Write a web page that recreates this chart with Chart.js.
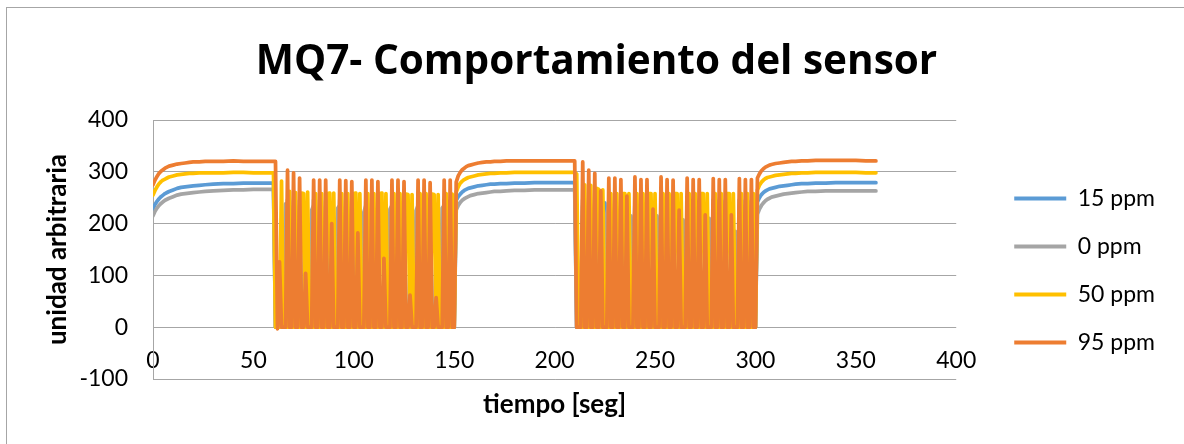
<!DOCTYPE html>
<html>
<head>
<meta charset="utf-8">
<script src="https://cdn.jsdelivr.net/npm/chart.js@4.4.1/dist/chart.umd.min.js"></script>
<style>
  body { margin: 0; background: #fff; }
  canvas { display: block; }
</style>
</head>
<body>
<canvas id="grafico" width="1184" height="444"></canvas>
<script>
// tiempo [seg]: curva suave 0-60, oscilacion 61-150, curva 151-210, oscilacion 211-300, curva 301-360
const tiempo = [
  0, 1, 2, 3, 4, 5, 6, 7, 8, 10, 12, 14, 16, 18, 20, 23, 26, 30, 35, 40, 45, 50, 55, 60,
  61, 62, 63, 64, 65, 66, 67, 68, 69, 70,
  71, 72, 73, 74, 75, 76, 77, 78, 79, 80,
  81, 82, 83, 84, 85, 86, 87, 88, 89, 90,
  91, 92, 93, 94, 95, 96, 97, 98, 99, 100,
  101, 102, 103, 104, 105, 106, 107, 108, 109, 110,
  111, 112, 113, 114, 115, 116, 117, 118, 119, 120,
  121, 122, 123, 124, 125, 126, 127, 128, 129, 130,
  131, 132, 133, 134, 135, 136, 137, 138, 139, 140,
  141, 142, 143, 144, 145, 146, 147, 148, 149, 150,
  151, 152, 153, 154, 155, 156, 157, 158, 160, 162, 164, 166, 168, 170, 173, 176, 180, 185, 190, 195, 200, 205, 210,
  211, 212, 213, 214, 215, 216, 217, 218, 219, 220,
  221, 222, 223, 224, 225, 226, 227, 228, 229, 230,
  231, 232, 233, 234, 235, 236, 237, 238, 239, 240,
  241, 242, 243, 244, 245, 246, 247, 248, 249, 250,
  251, 252, 253, 254, 255, 256, 257, 258, 259, 260,
  261, 262, 263, 264, 265, 266, 267, 268, 269, 270,
  271, 272, 273, 274, 275, 276, 277, 278, 279, 280,
  281, 282, 283, 284, 285, 286, 287, 288, 289, 290,
  291, 292, 293, 294, 295, 296, 297, 298, 299, 300,
  301, 302, 303, 304, 305, 306, 307, 308, 310, 312, 314, 316, 318, 320, 323, 326, 330, 335, 340, 345, 350, 355, 360
];

const ppm15 = [
  228, 237, 243, 248, 252, 255, 258, 260, 262, 265, 268, 270, 271, 272, 273, 274, 275, 276, 277, 277, 278, 278, 278, 278,
  0, 0, 0, 0, 0, 0, 246, 0, 0, 244,
  0, 0, 245, 0, 0, 0, 0, 0, 0, 246,
  0, 0, 246, 0, 0, 244, 0, 0, 0, 0,
  0, 0, 246, 0, 0, 245, 0, 0, 244, 0,
  0, 0, 0, 0, 0, 246, 0, 0, 246, 0,
  0, 244, 0, 0, 0, 0, 0, 0, 246, 0,
  0, 246, 0, 0, 244, 0, 0, 0, 0, 0,
  0, 246, 0, 0, 245, 0, 0, 244, 0, 0,
  0, 0, 0, 0, 246, 0, 0, 245, 0, 0,
  245, 252, 257, 261, 264, 266, 268, 269, 271, 273, 274, 275, 276, 276, 277, 277, 278, 278, 279, 279, 279, 279, 279,
  0, 0, 0, 246, 0, 0, 246, 0, 0, 245,
  0, 0, 0, 0, 240, 0, 246, 0, 0, 245,
  0, 0, 244, 0, 0, 0, 0, 0, 0, 246,
  0, 0, 245, 0, 0, 244, 0, 0, 0, 0,
  0, 0, 246, 0, 0, 245, 0, 0, 244, 0,
  0, 0, 0, 0, 0, 246, 0, 0, 245, 0,
  0, 244, 0, 0, 0, 0, 0, 0, 246, 0,
  0, 245, 0, 0, 244, 0, 0, 0, 0, 0,
  0, 246, 0, 0, 245, 0, 0, 244, 0, 0,
  242, 250, 256, 260, 263, 265, 267, 268, 270, 272, 273, 274, 275, 276, 277, 277, 278, 278, 279, 279, 279, 279, 279
];

const ppm0 = [
  215, 224, 230, 235, 239, 242, 245, 247, 249, 252, 255, 257, 258, 259, 260, 261, 262, 263, 264, 265, 265, 266, 266, 266,
  0, 0, 0, 0, 0, 238, 235, 0, 0, 235,
  0, 0, 235, 0, 0, 0, 0, 0, 226, 235,
  0, 0, 235, 0, 0, 234, 0, 0, 0, 0,
  0, 230, 235, 0, 0, 234, 0, 0, 233, 0,
  0, 0, 0, 0, 222, 235, 0, 0, 235, 0,
  0, 233, 0, 0, 0, 0, 0, 228, 235, 0,
  0, 235, 0, 0, 233, 0, 0, 0, 0, 0,
  225, 235, 0, 0, 234, 0, 0, 233, 0, 0,
  0, 0, 0, 230, 235, 0, 0, 234, 0, 0,
  226, 235, 241, 245, 248, 250, 252, 254, 256, 258, 259, 260, 261, 262, 262, 263, 264, 264, 265, 265, 265, 265, 265,
  0, 0, 0, 235, 0, 0, 235, 0, 0, 235,
  0, 0, 0, 0, 0, 220, 235, 0, 0, 235,
  0, 0, 235, 0, 0, 0, 0, 215, 0, 235,
  0, 0, 235, 0, 0, 235, 0, 0, 0, 0,
  215, 0, 235, 0, 0, 235, 0, 0, 235, 0,
  0, 0, 0, 207, 0, 235, 0, 0, 235, 0,
  0, 235, 0, 0, 0, 0, 210, 0, 235, 0,
  0, 235, 0, 0, 235, 0, 0, 0, 0, 185,
  0, 235, 0, 0, 235, 0, 0, 235, 0, 0,
  218, 228, 235, 240, 244, 247, 249, 251, 253, 255, 257, 258, 259, 260, 261, 262, 262, 263, 263, 263, 263, 263, 263
];

const ppm50 = [
  255, 264, 271, 277, 281, 284, 286, 288, 290, 292, 294, 295, 296, 297, 297, 298, 298, 298, 298, 299, 299, 298, 298, 298,
  0, 0, 0, 282, 0, 0, 0, 262, 0, 0,
  260, 0, 0, 259, 258, 0, 261, 0, 0, 0,
  258, 0, 0, 258, 0, 0, 258, 259, 0, 259,
  0, 0, 0, 258, 0, 0, 258, 0, 0, 258,
  259, 0, 258, 0, 0, 0, 258, 0, 0, 258,
  0, 0, 258, 259, 0, 258, 0, 0, 0, 258,
  0, 0, 258, 0, 0, 257, 256, 0, 256, 0,
  0, 0, 258, 0, 0, 258, 0, 0, 257, 256,
  0, 256, 0, 0, 0, 258, 0, 0, 257, 0,
  261, 271, 278, 282, 285, 287, 289, 290, 292, 294, 295, 296, 297, 297, 298, 298, 299, 299, 299, 299, 299, 299, 299,
  296, 0, 0, 0, 275, 0, 0, 274, 0, 0,
  268, 266, 0, 265, 0, 0, 0, 258, 0, 0,
  258, 0, 0, 258, 258, 0, 258, 0, 0, 0,
  258, 0, 0, 258, 0, 0, 258, 258, 0, 258,
  0, 0, 0, 258, 0, 0, 258, 0, 0, 258,
  258, 0, 258, 0, 0, 0, 258, 0, 0, 258,
  0, 0, 258, 258, 0, 258, 0, 0, 0, 258,
  0, 0, 258, 0, 0, 258, 258, 0, 258, 0,
  0, 0, 258, 0, 0, 258, 0, 0, 258, 0,
  265, 274, 280, 284, 287, 289, 290, 291, 293, 294, 295, 296, 297, 297, 298, 298, 299, 299, 299, 299, 299, 298, 298
];

const ppm95 = [
  275, 284, 291, 297, 301, 304, 307, 309, 311, 313, 315, 316, 317, 318, 319, 319, 320, 320, 320, 321, 320, 320, 320, 320,
  320, -3, 126, 0, 0, 0, 303, 0, 0, 298,
  0, 0, 288, 0, 0, 104, 0, 0, 0, 284,
  0, 0, 284, 0, 0, 284, 0, 0, 200, 0,
  0, 0, 284, 0, 0, 283, 0, 0, 281, 0,
  0, 182, 0, 0, 0, 284, 0, 0, 284, 0,
  0, 281, 0, 0, 133, 0, 0, 0, 284, 0,
  0, 284, 0, 0, 281, 0, 0, 62, 0, 0,
  0, 284, 0, 0, 284, 0, 0, 279, 0, 0,
  57, 0, 0, 0, 284, 0, 0, 284, 0, 0,
  280, 292, 299, 304, 307, 310, 312, 313, 315, 317, 318, 319, 319, 320, 320, 321, 321, 321, 321, 321, 321, 321, 321,
  0, 0, 0, 319, 0, 0, 303, 0, 0, 297,
  0, 0, 263, 0, 0, 0, 288, 0, 0, 288,
  0, 0, 285, 0, 0, 253, 0, 0, 0, 290,
  0, 0, 285, 0, 0, 285, 0, 0, 228, 0,
  0, 0, 290, 0, 0, 285, 0, 0, 284, 0,
  0, 226, 0, 0, 0, 288, 0, 0, 285, 0,
  0, 285, 0, 0, 217, 0, 0, 0, 287, 0,
  0, 285, 0, 0, 285, 0, 0, 217, 0, 0,
  0, 287, 0, 0, 285, 0, 0, 285, 0, 0,
  288, 296, 302, 306, 309, 311, 313, 314, 316, 317, 318, 319, 320, 320, 321, 321, 322, 322, 322, 322, 322, 321, 321
];

const series = [
  { label: '15 ppm', values: ppm15, color: '#5B9BD5', order: 4 },
  { label: '0 ppm', values: ppm0, color: '#A5A5A5', order: 3 },
  { label: '50 ppm', values: ppm50, color: '#FFC000', order: 2 },
  { label: '95 ppm', values: ppm95, color: '#ED7D31', order: 1 }
];

const fuente = 'Lato, "Open Sans", sans-serif';

// marco gris del area del grafico
const marco = {
  id: 'marco',
  beforeDraw(chart) {
    const c = chart.ctx;
    c.save();
    c.fillStyle = '#fff';
    c.fillRect(0, 0, chart.width, chart.height);
    c.strokeStyle = '#a6a6a6';
    c.lineWidth = 1;
    c.strokeRect(6.5, 7.5, chart.width, chart.height);
    c.restore();
  }
};

new Chart(document.getElementById('grafico'), {
  type: 'line',
  data: {
    datasets: series.map(s => ({
      label: s.label,
      data: tiempo.map((t, i) => ({ x: t, y: s.values[i] })),
      borderColor: s.color,
      backgroundColor: s.color,
      borderWidth: 3.75,
      borderJoinStyle: 'round',
      borderCapStyle: 'round',
      pointRadius: 0,
      fill: false,
      tension: 0,
      order: s.order
    }))
  },
  options: {
    responsive: false,
    animation: false,
    devicePixelRatio: 1,
    layout: { padding: { left: 28, right: 19, top: 10, bottom: 24 } },
    plugins: {
      title: {
        display: true,
        text: 'MQ7- Comportamiento del sensor',
        color: '#000',
        font: { family: '"Open Sans", Lato, sans-serif', size: 40.5, weight: 'bold' },
        padding: { top: 27.7, bottom: 33.7 }
      },
      legend: {
        position: 'right',
        align: 'end',
        fullSize: false,
        labels: {
          color: '#000',
          font: { family: fuente, size: 23 },
          boxWidth: 52,
          boxHeight: 4,
          padding: 25,
          sort: (a, b) => a.datasetIndex - b.datasetIndex,
          generateLabels(chart) {
            return Chart.defaults.plugins.legend.labels.generateLabels(chart).map(l => {
              l.fillStyle = l.strokeStyle;
              l.lineWidth = 0;
              return l;
            });
          }
        }
      },
      tooltip: { enabled: false }
    },
    scales: {
      x: {
        type: 'linear',
        min: 0,
        max: 400,
        grid: { display: false },
        border: { display: false },
        ticks: {
          stepSize: 50,
          mirror: true,
          padding: 5,
          maxRotation: 0,
          color: '#000',
          font: { family: fuente, size: 23 }
        },
        title: {
          display: true,
          text: 'tiempo [seg]',
          color: '#000',
          font: { family: fuente, size: 26, weight: 'bold' },
          padding: { top: 0, bottom: 0 }
        },
        afterFit(s) { s.height = 41; }
      },
      y: {
        min: -100,
        max: 400,
        grid: { color: '#a6a6a6', lineWidth: 1, drawTicks: false },
        border: { display: true, color: '#a6a6a6', width: 1 },
        ticks: {
          stepSize: 100,
          padding: 25,
          color: '#000',
          font: { family: fuente, size: 23 }
        },
        title: {
          display: true,
          text: 'unidad arbitraria',
          color: '#000',
          font: { family: fuente, size: 26, weight: 'bold' },
          padding: { top: 14.4, bottom: 0 }
        },
        afterFit(s) { s.width = 125; }
      },
      hueco: {
        type: 'linear',
        position: 'right',
        display: true,
        min: 0,
        max: 1,
        grid: { display: false },
        border: { display: false },
        ticks: { display: false },
        afterFit(s) { s.width = 33; }
      }
    }
  },
  plugins: [marco]
});
</script>
</body>
</html>
